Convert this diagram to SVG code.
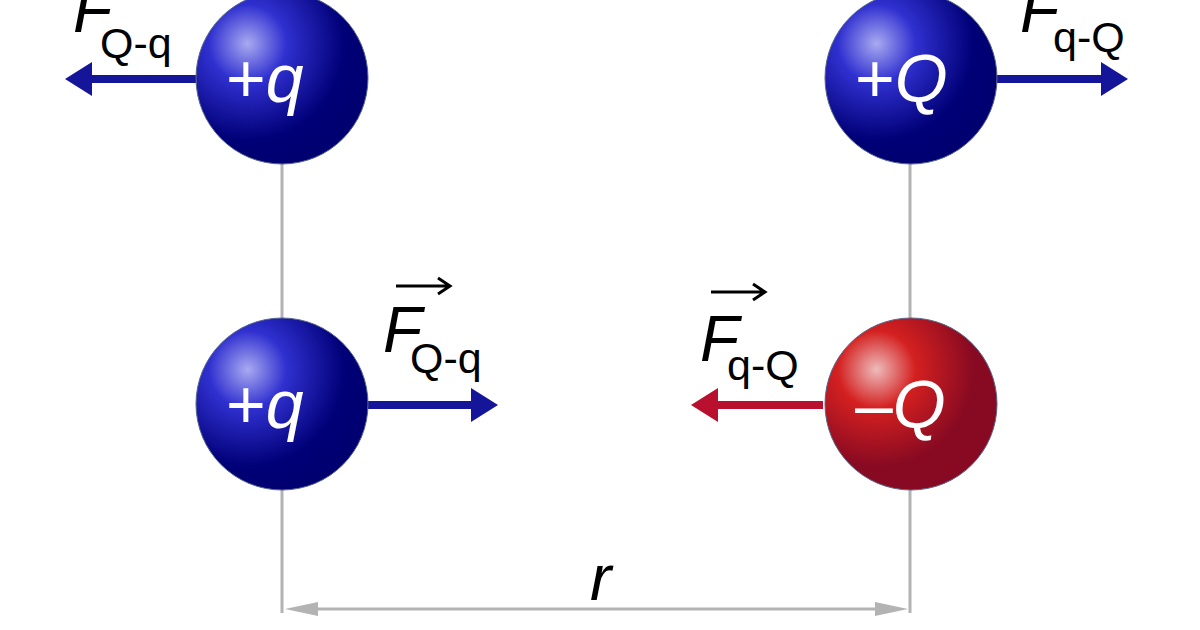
<svg xmlns="http://www.w3.org/2000/svg" width="1200" height="630" viewBox="0 0 1200 630">
<style>
.lbl{font-family:"Liberation Sans",Arial,sans-serif;fill:#000}
.sph{font-family:"Liberation Sans",Arial,sans-serif;fill:#fff;font-size:68px}
.it{font-style:italic}
.guide{stroke:#b3b3b3;stroke-width:3;fill:none}
</style>
<defs>
<radialGradient id="gb" cx="0.3" cy="0.3" r="0.75" fx="0.3" fy="0.3">
<stop offset="0" stop-color="#a8aaf0"/>
<stop offset="0.3" stop-color="#3030d0"/>
<stop offset="0.75" stop-color="#000077"/>
<stop offset="1" stop-color="#000070"/>
</radialGradient>
<radialGradient id="gr" cx="0.3" cy="0.3" r="0.75" fx="0.3" fy="0.3">
<stop offset="0" stop-color="#eebbbb"/>
<stop offset="0.3" stop-color="#d42020"/>
<stop offset="0.75" stop-color="#880a22"/>
<stop offset="1" stop-color="#880a22"/>
</radialGradient>
</defs>
<g id="connectors">
<line class="guide" x1="282" y1="160" x2="282" y2="613"/>
<line class="guide" x1="910" y1="160" x2="910" y2="613"/>
<line class="guide" x1="295" y1="609" x2="898" y2="609"/>
<path d="M285,609 L318,602 L318,616z" fill="#b3b3b3"/>
<path d="M908,609 L875,602 L875,616z" fill="#b3b3b3"/>
<g fill="#15159a">
<rect x="90" y="75" width="106" height="8"/><path d="M65,79 L92,62 L92,96z"/>
<rect x="368" y="401" width="105" height="8"/><path d="M498,405 L471,388 L471,422z"/>
<rect x="997" y="75" width="106" height="8"/><path d="M1128,79 L1101,62 L1101,96z"/>
</g>
<g fill="#b8102e">
<rect x="716" y="401" width="107" height="8"/><path d="M691,405 L718,388 L718,422z"/>
</g>
</g>
<g id="n1"><circle cx="282" cy="78" r="86" fill="url(#gb)" stroke="#556688" stroke-width="1"/>
<text class="sph" x="226" y="102">+<tspan class="it">q</tspan></text></g>
<g id="n2"><circle cx="911" cy="78" r="86" fill="url(#gb)" stroke="#556688" stroke-width="1"/>
<text class="sph" x="855" y="102">+<tspan class="it">Q</tspan></text></g>
<g id="n3"><circle cx="282" cy="404" r="86" fill="url(#gb)" stroke="#556688" stroke-width="1"/>
<text class="sph" x="226" y="428">+<tspan class="it">q</tspan></text></g>
<g id="n4"><circle cx="911" cy="404" r="86" fill="url(#gr)" stroke="#556688" stroke-width="1"/>
<text class="sph" x="855" y="428">–<tspan class="it">Q</tspan></text></g>
<g id="labels">
<text class="lbl it" x="73" y="32" font-size="64">F</text>
<text class="lbl" x="100" y="58" font-size="43">Q-q</text>
<text class="lbl it" x="1020" y="32" font-size="64">F</text>
<text class="lbl" x="1053" y="52" font-size="43">q-Q</text>
<text class="lbl it" x="383" y="352" font-size="64">F</text>
<text class="lbl" x="410" y="373" font-size="43">Q-q</text>
<path d="M396,286 L450,286 M438,278 L450,286 L438,294" stroke="#000" stroke-width="3" fill="none"/>
<text class="lbl it" x="700" y="361" font-size="64">F</text>
<text class="lbl" x="727" y="380" font-size="43">q-Q</text>
<path d="M711,292 L765,292 M753,284 L765,292 L753,300" stroke="#000" stroke-width="3" fill="none"/>
<text class="lbl it" x="590" y="600" font-size="64">r</text>
</g>
</svg>
